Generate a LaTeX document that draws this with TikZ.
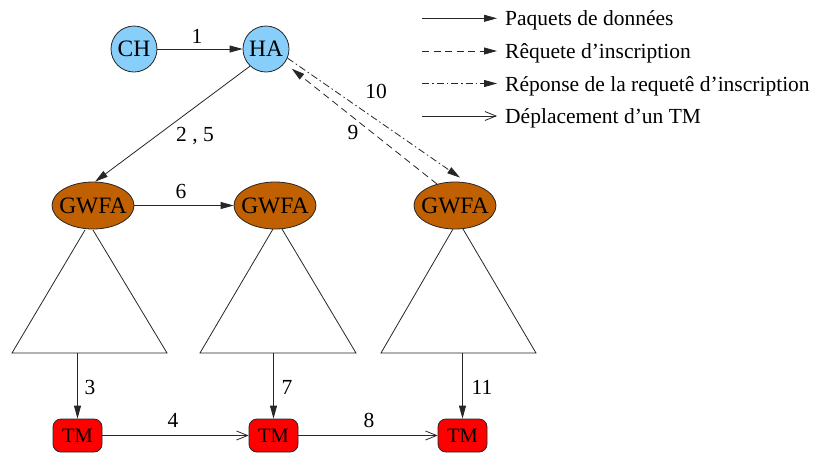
\documentclass[tikz,border=0pt]{standalone}
\usepackage{fontspec}
\setmainfont{Liberation Serif}
\usetikzlibrary{arrows.meta,shapes.geometric,calc}
\definecolor{hablue}{RGB}{135,206,250}
\definecolor{gwbrown}{RGB}{192,96,0}
\definecolor{tmred}{RGB}{255,0,0}
\tikzset{
  every node/.style={font=\fontsize{21.5}{21.5}\selectfont},
  conn/.style={line width=0.8pt, draw=black!85},
  fhead/.style={-{Triangle[length=13pt,width=7pt]}},
  ohead/.style={-{Straight Barb[length=11pt,width=9pt,line width=0.8pt]}},
  dashline/.style={dash pattern=on 7pt off 4.5pt},
  dashdotline/.style={dash pattern=on 7pt off 3pt on 1.5pt off 3pt},
  circnode/.style={circle, draw=black!85, line width=0.8pt, fill=hablue, minimum size=46pt, inner sep=0pt, font=\fontsize{23.5}{23.5}\selectfont},
  gwnode/.style={ellipse, draw=black!85, line width=0.8pt, fill=gwbrown, minimum width=82pt, minimum height=47pt, inner sep=0pt, font=\fontsize{23.5}{23.5}\selectfont},
  tmnode/.style={rectangle, rounded corners=8pt, draw=black!85, line width=0.8pt, fill=tmred, minimum width=49pt, minimum height=33pt, inner sep=0pt, font=\fontsize{20.5}{20.5}\selectfont},
  lbl/.style={inner sep=0pt, text depth=0pt},
  legtext/.style={inner sep=0pt, anchor=base west},
  tri/.style={line width=0.8pt, draw=black!85}
}
\begin{document}
\begin{tikzpicture}[x=1pt,y=-1pt]
\useasboundingbox (0,0) rectangle (813,453);
% nodes
\node[circnode] (CH) at (134,49) {CH};
\node[circnode] (HA) at (266,49) {HA};
\node[gwnode] (G1) at (93,205.5) {\makebox[0pt]{GWFA}};
\node[gwnode] (G2) at (275,205.5) {\makebox[0pt]{GWFA}};
\node[gwnode] (G3) at (455,205.5) {\makebox[0pt]{GWFA}};
\node[tmnode] (T1) at (77.5,435.5) {TM};
\node[tmnode] (T2) at (273.5,435.5) {TM};
\node[tmnode] (T3) at (462.5,435.5) {TM};
% triangles
\draw[tri] (85,230) -- (12,353) -- (167,353) -- (93,230);
\draw[tri] (273,229) -- (200,353) -- (356,353) -- (282,229);
\draw[tri] (453,229) -- (381,353) -- (536,353) -- (463,229);
\coordinate (b1) at (77.5,353);
\coordinate (b2) at (273.5,353);
\coordinate (b3) at (462.5,353);
% connectors
\draw[conn,fhead] (CH) -- (HA);
\draw[conn,fhead] (HA.-133) -- (G1.85);
\draw[conn,fhead] (G1) -- (G2);
\draw[conn,fhead,dashdotline] (HA.-23) -- ($(G3.north)+(5,-4)$);
\draw[conn,fhead,dashline] (G3.130) -- (HA.-37) [shorten >=9pt];
\draw[conn,fhead] (b1) -- (T1);
\draw[conn,fhead] (b2) -- (T2);
\draw[conn,fhead] (b3) -- (T3);
\draw[conn,ohead] (T1) -- (T2);
\draw[conn,ohead] (T2) -- (T3);
% labels
\node[lbl] (l1) at (197,36) {1};
\node[lbl] (l25) at (195,134) {2 , 5};
\node[lbl] (l6) at (181,191.5) {6};
\node[lbl] (l10) at (376,91) {10};
\node[lbl] (l9) at (353,132) {9};
\node[lbl] (l3) at (90,387) {3};
\node[lbl] (l7) at (287,387) {7};
\node[lbl] (l11) at (482,387) {11};
\node[lbl] (l4) at (173,420) {4};
\node[lbl] (l8) at (369,420) {8};
% legend
\coordinate (a1) at (422,18.3); \coordinate (e1) at (497,18.3);
\coordinate (a2) at (422,51); \coordinate (e2) at (497,51);
\coordinate (a3) at (422,83.5); \coordinate (e3) at (497,83.5);
\coordinate (a4) at (422,116); \coordinate (e4) at (497,116);
\draw[conn,fhead] (a1) -- (e1);
\draw[conn,fhead,dashline] (a2) -- (e2);
\draw[conn,fhead,dashdotline] (a3) -- (e3);
\draw[conn,ohead] (a4) -- (e4);
\node[legtext] (t1) at (505,25.8) {Paquets de données};
\node[legtext] (t2) at (505,58.5) {Rêquete d’inscription};
\node[legtext] (t3) at (505,91) {Réponse de la requetê d’inscription};
\node[legtext] (t4) at (505,123.5) {Déplacement d’un TM};
\end{tikzpicture}
\end{document}
